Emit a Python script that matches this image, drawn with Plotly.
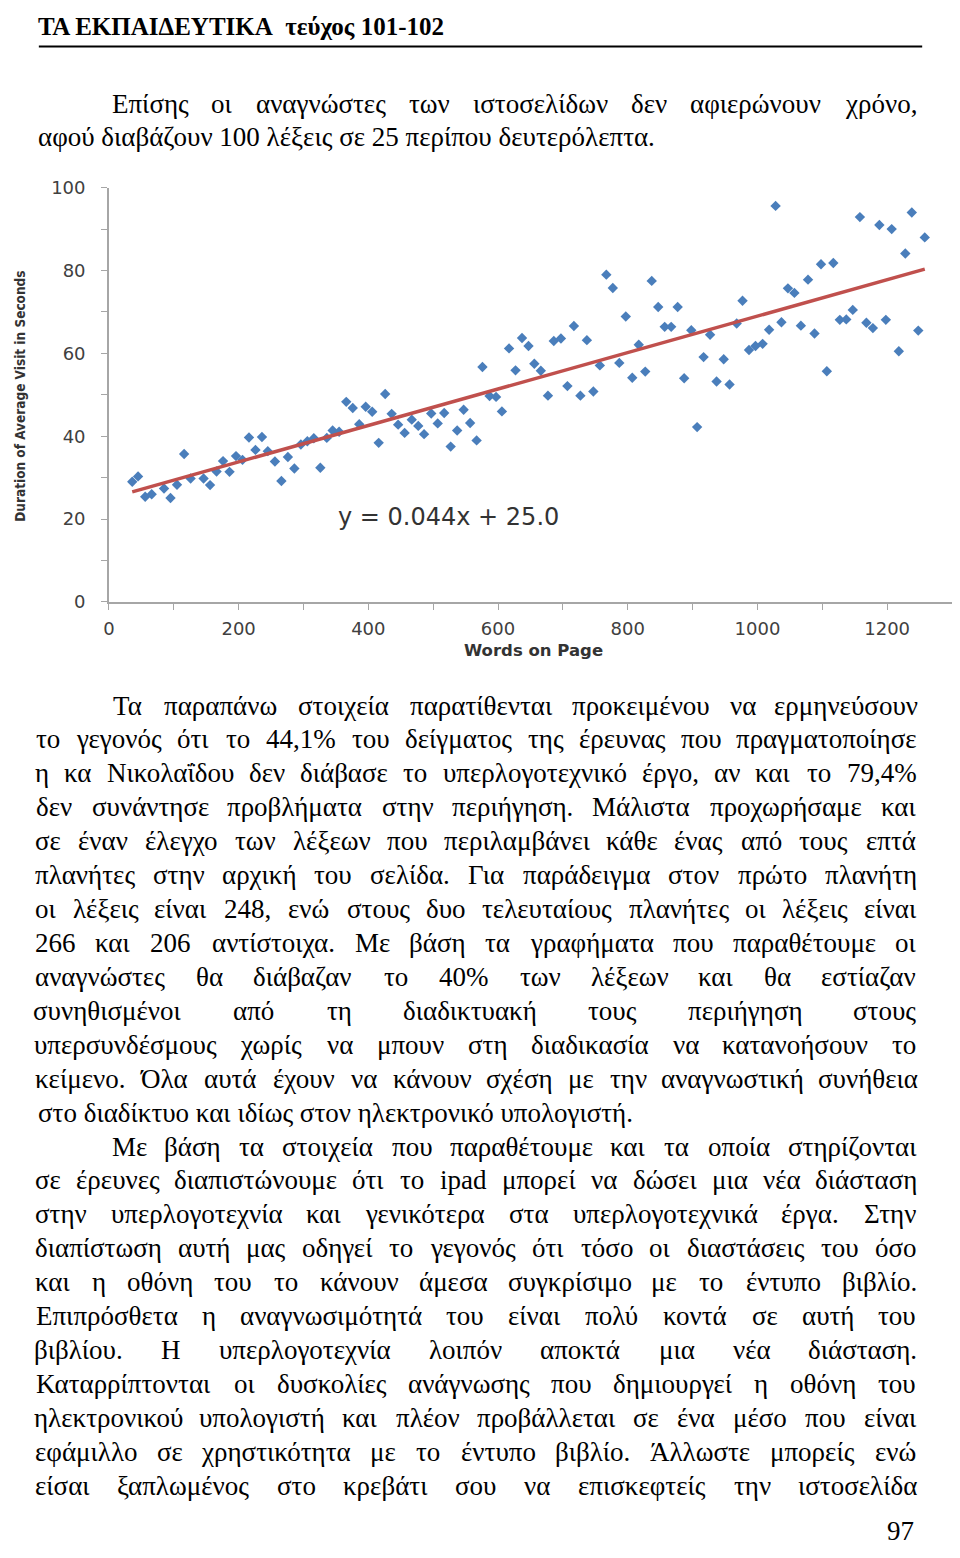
import unicodedata
import plotly.graph_objects as go

W, H = 960, 1558          # reference page size
OX, OY = 8, 8             # browser body margin
FW, FH = W - 2 * OX, H - 2 * OY

# ---------------- chart data ----------------
words_on_page = [36, 45, 56, 66, 85, 95, 105, 116, 126, 146,
                 156, 166, 176, 186, 196, 206, 216, 226, 236, 245,
                 256, 266, 276, 286, 296, 306, 316, 326, 336, 345,
                 355, 366, 376, 386, 396, 406, 416, 426, 436, 446,
                 456, 467, 477, 486, 497, 507, 517, 527, 537, 547,
                 557, 567, 576, 587, 597, 606, 617, 627, 637, 647,
                 656, 666, 677, 686, 697, 707, 717, 727, 737, 747,
                 757, 767, 777, 787, 797, 807, 817, 827, 837, 847,
                 857, 867, 877, 887, 898, 907, 917, 927, 937, 948,
                 957, 968, 977, 987, 997, 1008, 1018, 1028, 1037, 1047,
                 1057, 1067, 1078, 1088, 1098, 1107, 1117, 1127, 1137, 1147,
                 1158, 1168, 1178, 1188, 1198, 1207, 1218, 1228, 1238, 1248, 1258]
avg_visit_seconds = [29.0, 30.3, 25.4, 26.0, 27.4, 25.1, 28.3, 35.7, 29.8, 29.8,
                     28.2, 31.5, 34.0, 31.4, 35.2, 34.3, 39.7, 36.7, 39.8, 36.4,
                     33.9, 29.2, 35.0, 32.2, 38.0, 38.8, 39.5, 32.4, 39.6, 41.4,
                     41.1, 48.3, 46.8, 42.9, 47.1, 45.9, 38.4, 50.2, 45.4, 42.8,
                     40.8, 44.0, 42.5, 40.5, 45.5, 43.1, 45.6, 37.5, 41.4, 46.4,
                     43.2, 39.0, 56.7, 49.7, 49.5, 46.0, 61.2, 55.9, 63.7, 61.8,
                     57.5, 55.8, 49.8, 63.0, 63.6, 52.1, 66.6, 49.8, 63.2, 50.8,
                     57.1, 79.0, 75.8, 57.7, 68.9, 54.1, 62.1, 55.6, 77.5, 71.2,
                     66.4, 66.4, 71.2, 54.0, 65.6, 42.2, 59.1, 64.5, 53.2, 58.6,
                     52.5, 67.2, 72.7, 60.8, 61.8, 62.3, 65.7, 95.6, 67.5, 75.7,
                     74.6, 66.7, 77.8, 64.8, 81.5, 55.7, 81.8, 68.1, 68.2, 70.5,
                     92.9, 67.4, 66.1, 91.0, 68.1, 90.0, 60.5, 84.1, 94.0, 65.5, 88.0]
trend_slope = 0.044
trend_intercept = 25.0
equation_label = "y = 0.044x + 25.0"
x_title = "Words on Page"
y_title = "Duration of Average Visit in Seconds"

# ---------------- page text ----------------
header_text = "ΤΑ ΕΚΠΑΙΔΕΥΤΙΚΑ\u00a0\u00a0τεύχος 101-102"
top_lines = [
    "Επίσης οι αναγνώστες των ιστοσελίδων δεν αφιερώνουν χρόνο,",
    "αφού διαβάζουν 100 λέξεις σε 25 περίπου δευτερόλεπτα.",
]
body_lines = [
    "Τα παραπάνω στοιχεία παρατίθενται προκειμένου να ερμηνεύσουν",
    "το γεγονός ότι το 44,1% του δείγματος της έρευνας που πραγματοποίησε",
    "η κα Νικολαΐδου δεν διάβασε το υπερλογοτεχνικό έργο, αν και το 79,4%",
    "δεν συνάντησε προβλήματα στην περιήγηση. Μάλιστα προχωρήσαμε και",
    "σε έναν έλεγχο των λέξεων που περιλαμβάνει κάθε ένας από τους επτά",
    "πλανήτες στην αρχική του σελίδα. Για παράδειγμα στον πρώτο πλανήτη",
    "οι λέξεις είναι 248, ενώ στους δυο τελευταίους πλανήτες οι λέξεις είναι",
    "266 και 206 αντίστοιχα. Με βάση τα γραφήματα που παραθέτουμε οι",
    "αναγνώστες θα διάβαζαν το 40% των λέξεων και θα εστίαζαν",
    "συνηθισμένοι από τη διαδικτυακή τους περιήγηση στους",
    "υπερσυνδέσμους χωρίς να μπουν στη διαδικασία να κατανοήσουν το",
    "κείμενο. Όλα αυτά έχουν να κάνουν σχέση με την αναγνωστική συνήθεια",
    "στο διαδίκτυο και ιδίως στον ηλεκτρονικό υπολογιστή.",
    "Με βάση τα στοιχεία που παραθέτουμε και τα οποία στηρίζονται",
    "σε έρευνες διαπιστώνουμε ότι το ipad μπορεί να δώσει μια νέα διάσταση",
    "στην υπερλογοτεχνία και γενικότερα στα υπερλογοτεχνικά έργα. Στην",
    "διαπίστωση αυτή μας οδηγεί το γεγονός ότι τόσο οι διαστάσεις του όσο",
    "και η οθόνη του το κάνουν άμεσα συγκρίσιμο με το έντυπο βιβλίο.",
    "Επιπρόσθετα η αναγνωσιμότητά του είναι πολύ κοντά σε αυτή του",
    "βιβλίου. Η υπερλογοτεχνία λοιπόν αποκτά μια νέα διάσταση.",
    "Καταρρίπτονται οι δυσκολίες ανάγνωσης που δημιουργεί η οθόνη του",
    "ηλεκτρονικού υπολογιστή και πλέον προβάλλεται σε ένα μέσο που είναι",
    "εφάμιλλο σε χρηστικότητα με το έντυπο βιβλίο. Άλλωστε μπορείς ενώ",
    "είσαι ξαπλωμένος στο κρεβάτι σου να επισκεφτείς την ιστοσελίδα",
]
page_number = "97"
top_indented, top_ragged = {0}, {1}
body_indented, body_ragged = {0, 13}, {12}

# ---------------- styling ----------------
SERIF = "Liberation Serif, Times New Roman, serif"
BODY_SIZE = 27
LEFT, INDENT, RIGHT = 30, 107, 916

WIDTH_EM = {
    ' ': .25, ',': .25, '.': .25, '%': .833, '-': .333, ':': .278,
    'a': .444, 'b': .5, 'c': .444, 'd': .5, 'e': .444, 'f': .333, 'g': .5,
    'h': .5, 'i': .278, 'j': .278, 'k': .5, 'l': .278, 'm': .778, 'n': .5,
    'o': .5, 'p': .5, 'q': .5, 'r': .333, 's': .389, 't': .278, 'u': .5,
    'v': .5, 'w': .722, 'x': .5, 'y': .5, 'z': .444,
    'α': .52, 'β': .49, 'γ': .44, 'δ': .48, 'ε': .41, 'ζ': .42, 'η': .49,
    'θ': .47, 'ι': .27, 'κ': .48, 'λ': .46, 'μ': .52, 'ν': .45, 'ξ': .42,
    'ο': .5, 'π': .53, 'ρ': .49, 'σ': .52, 'ς': .41, 'τ': .42, 'υ': .48,
    'φ': .62, 'χ': .47, 'ψ': .66, 'ω': .67,
    'Α': .722, 'Β': .667, 'Γ': .578, 'Δ': .65, 'Ε': .611, 'Ζ': .611,
    'Η': .722, 'Θ': .722, 'Ι': .333, 'Κ': .722, 'Λ': .7, 'Μ': .889,
    'Ν': .722, 'Ξ': .64, 'Ο': .722, 'Π': .722, 'Ρ': .556, 'Σ': .6,
    'Τ': .611, 'Υ': .722, 'Φ': .76, 'Χ': .722, 'Ψ': .8, 'Ω': .77,
}


def text_width(s, size):
    total = 0.0
    for ch in s:
        if ch.isdigit():
            total += .5
            continue
        decomp = unicodedata.normalize("NFD", ch)
        base = decomp[0]
        w = WIDTH_EM.get(base, .5)
        if base.isupper() and len(decomp) > 1:
            w += .08
        total += w
    return total * size


def px(x):
    return (x - OX) / FW


def py(y):
    return 1 - (y - OY) / FH


annotations = []


def add_text(text, x, y, xanchor="left", size=BODY_SIZE, family=SERIF, color="black"):
    annotations.append(dict(text=text, x=px(x), y=py(y), xref="paper", yref="paper",
                            xanchor=xanchor, yanchor="middle", showarrow=False,
                            font=dict(family=family, size=size, color=color)))


def add_line(text, y, left, justify):
    if not justify:
        add_text(text, left, y)
        return
    words = text.split(" ")
    widths = [text_width(w, BODY_SIZE) for w in words]
    gap = (RIGHT - left - sum(widths)) / (len(words) - 1)
    x = left
    for w_txt, w in zip(words, widths):
        add_text(w_txt, x + w / 2, y, xanchor="center")
        x += w + gap


top_y0, top_pitch = 94, 33.5
for i, line in enumerate(top_lines):
    add_line(line, top_y0 + i * top_pitch, INDENT if i in top_indented else LEFT,
             i not in top_ragged)

body_y0, body_pitch = 704, 34.39
for i, line in enumerate(body_lines):
    add_line(line, body_y0 + i * body_pitch, INDENT if i in body_indented else LEFT,
             i not in body_ragged)

add_text("<b>" + header_text + "</b>", 30, 15.5, size=25)
add_text(page_number, 916, 1541, xanchor="right")

# chart texts
add_text(equation_label, 445, 513, xanchor="center", family="DejaVu Sans", size=24, color="#333333")
add_text("<b>" + x_title + "</b>", 531, 648, xanchor="center", family="DejaVu Sans", size=16.5,
         color="#333333")
annotations.append(dict(text="<b>" + y_title + "</b>", x=px(14), y=py(390), xref="paper", yref="paper",
                        xanchor="center", yanchor="middle", showarrow=False, textangle=-90,
                        font=dict(family="DejaVu Sans Condensed, Liberation Sans Narrow, sans-serif",
                                  size=13.5, color="#333333")))

# ---------------- figure ----------------
x0_px, x1_px = 103.5, 956.7
y0_px, y1_px = 599, 179
AXIS = "#a6a6a6"
TICKFONT = dict(family="DejaVu Sans", size=18, color="#404040")

fig = go.Figure()
fig.add_trace(go.Scatter(x=words_on_page, y=avg_visit_seconds, mode="markers",
                         marker=dict(symbol="diamond", size=8, color="#4a7ebb"),
                         showlegend=False))
trend_x = [min(words_on_page), max(words_on_page)]
trend_y = [trend_slope * v + trend_intercept for v in trend_x]
fig.add_trace(go.Scatter(x=trend_x, y=trend_y, mode="lines",
                         line=dict(color="#c0504d", width=3.5), showlegend=False))

fig.update_layout(
    width=FW, height=FH, margin=dict(l=0, r=0, t=0, b=0),
    paper_bgcolor="white", plot_bgcolor="white",
    xaxis=dict(domain=[px(x0_px), min(1, px(x1_px))], range=[0, 1300], tick0=0, dtick=200,
               showline=True, linecolor=AXIS, linewidth=1.5, ticks="outside", ticklen=6,
               tickcolor=AXIS, showgrid=False, zeroline=False, tickfont=TICKFONT,
               ticklabelstandoff=4,
               minor=dict(dtick=100, ticks="outside", ticklen=6, tickcolor=AXIS, showgrid=False)),
    yaxis=dict(domain=[py(y0_px), py(y1_px)], range=[0, 100], tick0=0, dtick=20,
               showline=True, linecolor=AXIS, linewidth=1.5, ticks="outside", ticklen=6,
               tickcolor=AXIS, showgrid=False, zeroline=False, tickfont=TICKFONT,
               ticklabelstandoff=12,
               minor=dict(dtick=10, ticks="outside", ticklen=6, tickcolor=AXIS, showgrid=False)),
    annotations=annotations,
    shapes=[dict(type="line", xref="paper", yref="paper", x0=px(33), x1=px(922),
                 y0=py(36), y1=py(36), line=dict(color="black", width=2))],
)

fig.write_html("out.html")
